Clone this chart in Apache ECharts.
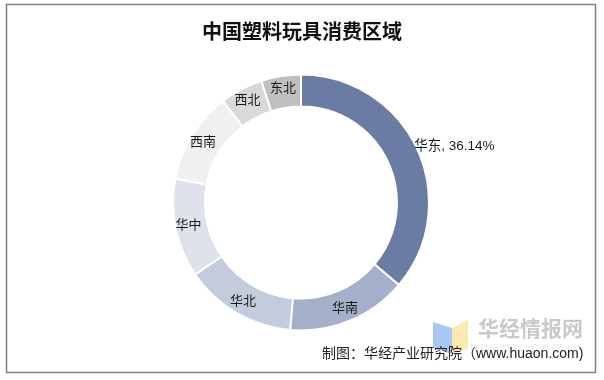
<!DOCTYPE html>
<html>
<head>
<meta charset="utf-8">
<script src="https://cdn.jsdelivr.net/npm/echarts@6/dist/echarts.min.js"></script>
<style>
html,body{margin:0;padding:0;background:#fff;}
#c{width:604px;height:380px;}
</style>
</head>
<body>
<div id="c"></div>
<script>
var title = '中国塑料玩具消费区域';
var categories = ['华东', '华南', '华北', '华中', '西南', '西北', '东北'];
var values = [36.14, 15.22, 14.13, 12.52, 11.56, 5.42, 5.01];
var colors = ['#6a7ca3', '#a4b0ca', '#c3cbdc', '#dde2ec', '#f0f0f0', '#d9d9d9', '#bfbfbf'];
var sourceText = '制图：华经产业研究院（www.huaon.com)';

var chart = echarts.init(document.getElementById('c'), null, {renderer: 'canvas'});
var data = categories.map(function (name, i) {
  var item = {name: name, value: values[i], itemStyle: {color: colors[i]}};
  if (i === 0) {
    item.label = {
      formatter: function (p) { return p.name + ', ' + p.value.toFixed(2) + '%'; },
      fontSize: 13.5,
      offset: [49, -8]
    };
  }
  return item;
});

chart.setOption({
  animation: false,
  backgroundColor: '#ffffff',
  title: {
    text: title,
    left: 'center',
    top: 16,
    textStyle: {
      fontFamily: '"Noto Sans CJK SC", sans-serif',
      fontWeight: 'bold',
      fontSize: 20,
      color: '#111111'
    }
  },
  graphic: [
    {
      type: 'rect',
      shape: {x: 6.5, y: 4.5, width: 589, height: 368},
      style: {fill: 'none', stroke: '#7f7f7f', lineWidth: 1.5},
      silent: true, z: 0
    },
    {
      type: 'polygon',
      shape: {points: [[433, 322], [452, 328], [452, 354], [433, 348]]},
      style: {fill: '#a9c8f0'},
      silent: true, z: 1
    },
    {
      type: 'polygon',
      shape: {points: [[452, 328], [468, 320], [468, 348], [452, 354]]},
      style: {fill: '#fbeab0'},
      silent: true, z: 1
    },
    {
      type: 'text',
      left: 478, top: 318,
      style: {
        text: '华经情报网',
        font: 'bold 21px "Noto Sans CJK SC", sans-serif',
        fill: '#c9c9c9'
      },
      silent: true, z: 1
    },
    {
      type: 'text',
      left: 470, top: 341,
      style: {
        text: 'h u a o n . c o m',
        font: '13px "Liberation Sans", sans-serif',
        fill: '#eeeeee'
      },
      silent: true, z: 1
    },
    {
      type: 'text',
      left: 322, top: 347,
      style: {
        text: sourceText,
        font: '14px "Liberation Sans", "Noto Sans CJK SC", sans-serif',
        fill: '#222222'
      },
      silent: true, z: 2
    }
  ],
  series: [{
    type: 'pie',
    center: [301, 202.5],
    radius: [96, 128],
    startAngle: 90,
    clockwise: true,
    itemStyle: {borderColor: '#ffffff', borderWidth: 2},
    label: {
      show: true,
      position: 'inside',
      formatter: '{b}',
      fontSize: 13,
      color: '#1a1a1a',
      fontFamily: '"Liberation Sans", "Noto Sans CJK SC", sans-serif'
    },
    labelLine: {show: false},
    emphasis: {disabled: true},
    data: data
  }]
});
</script>
</body>
</html>
